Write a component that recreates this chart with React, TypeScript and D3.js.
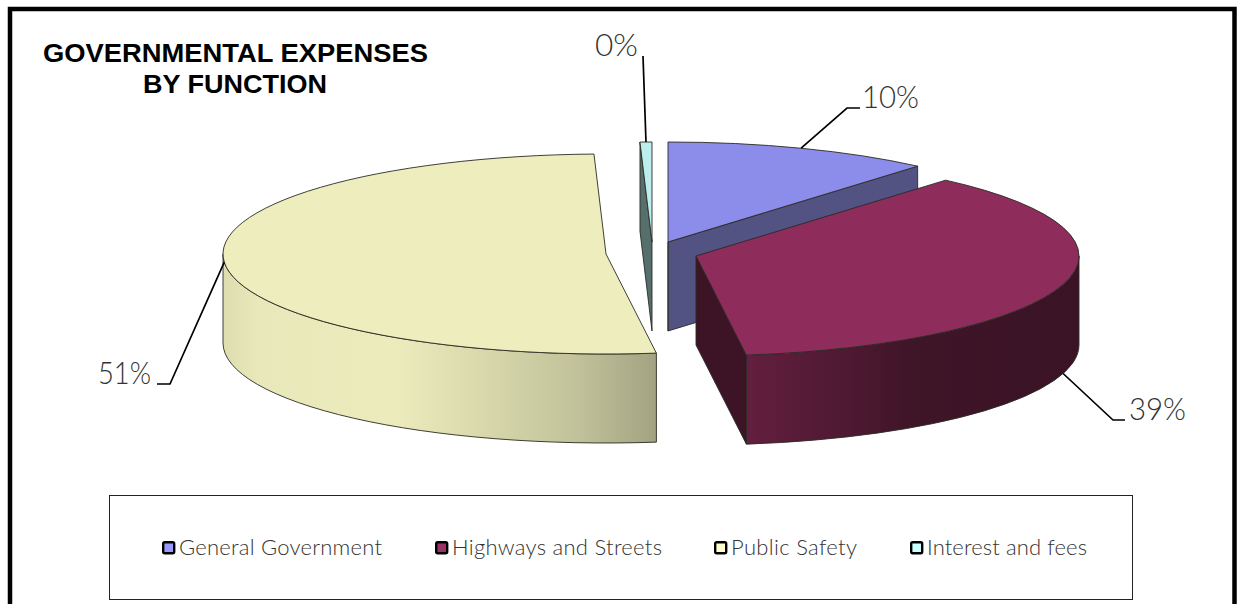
import * as d3 from "d3";

const categories = ["General Government", "Highways and Streets", "Public Safety", "Interest and fees"];
const values = [11.3, 36.6, 51.6, 0.5];
const percentLabels = ["10%", "39%", "51%", "0%"];
const topColors = ["#8c8cea", "#8e2c5c", "#ededbd", "#bdeeee"];
const sideColors = ["#525283", "#3c1426", "#a4a484", "#566f6c"];
const legendColors = ["#9999ff", "#993366", "#ffffcc", "#ccffff"];

const W = 1238, H = 604;
const RX = 383, RY = 100, DEPTH = 89;

// where each exploded wedge has its tip
const centers: [number, number][] = [[668, 242], [696, 256], [606, 254], [652, 242]];
const drawOrder = [3, 0, 2, 1];

const labelLayout = [
  { elbow: [847, 108], end: [860, 108], x: 862, y: 108, len: 57, wall: false },
  { elbow: [1113, 420], end: [1125, 420], x: 1129, y: 419.5, len: 57, wall: true },
  { elbow: [170, 384], end: [157, 384], x: 98, y: 384, len: 53, wall: false },
  { elbow: [643, 56], end: [643, 56], x: 595, y: 56, len: 43, wall: false },
];
const legendX = [162, 435, 714, 910];
const legendTextLen = [203, 210, 126, 160];

const pie = d3.pie<number>().sort(null).startAngle(0).endAngle(2 * Math.PI);
const arcs = pie(values);
const topArc = d3.arc<d3.PieArcDatum<number>>().innerRadius(0).outerRadius(RX);

const pt = (i: number, a: number): [number, number] => [
  centers[i][0] + RX * Math.sin(a),
  centers[i][1] - RY * Math.cos(a),
];

// outer wall between two angles, going anticlockwise along the front edge
function wallPath(i: number, a0: number, a1: number) {
  const p0 = pt(i, a0), p1 = pt(i, a1);
  const sweep = a1 > a0 ? 1 : 0;
  return `M${p0[0]},${p0[1]}A${RX},${RY} 0 0 ${sweep} ${p1[0]},${p1[1]}` +
    `L${p1[0]},${p1[1] + DEPTH}A${RX},${RY} 0 0 ${sweep ? 0 : 1} ${p0[0]},${p0[1] + DEPTH}Z`;
}

// flat cut face going down from one radius
function cutPath(i: number, a: number) {
  const c = centers[i], p = pt(i, a);
  return d3.line()([c, p, [p[0], p[1] + DEPTH], [c[0], c[1] + DEPTH]]) + "Z";
}

const edge = "#2a2a22";
const labelFont = "Lato, 'Open Sans', sans-serif";

export default function App() {
  return (
    <svg width={W} height={H} viewBox={`0 0 ${W} ${H}`} style={{ position: "absolute", left: 0, top: 0, display: "block", background: "#fff" }}>
      <defs>
        <linearGradient id="wallRed" gradientUnits="userSpaceOnUse" x1={745} x2={1080} y1={0} y2={0}>
          <stop offset="0" stopColor="#631f3f" />
          <stop offset="0.25" stopColor="#521a34" />
          <stop offset="0.5" stopColor="#3f1528" />
          <stop offset="1" stopColor="#3a1325" />
        </linearGradient>
        <linearGradient id="wallYellow" gradientUnits="userSpaceOnUse" x1={224} x2={656} y1={0} y2={0}>
          <stop offset="0" stopColor="#deddb0" />
          <stop offset="0.08" stopColor="#e8e8ba" />
          <stop offset="0.4" stopColor="#ebebbc" />
          <stop offset="0.6" stopColor="#d8d8ac" />
          <stop offset="0.8" stopColor="#c4c49c" />
          <stop offset="1" stopColor="#a3a383" />
        </linearGradient>
      </defs>

      <rect x={10} y={9} width={1224.5} height={H + 20} fill="none" stroke="#000" strokeWidth={4.5} />

      <text fontFamily="'Liberation Sans', Arial, sans-serif" fontWeight={700} fontSize={26} fill="#000">
        <tspan x={43} y={62} textLength={385} lengthAdjust="spacingAndGlyphs">GOVERNMENTAL EXPENSES</tspan>
        <tspan x={143} y={93} textLength={184} lengthAdjust="spacingAndGlyphs">BY FUNCTION</tspan>
      </text>

      {drawOrder.map((i) => {
        const d = arcs[i];
        const c = centers[i];
        return (
          <g key={categories[i]} stroke={edge} strokeWidth={0.9} strokeLinejoin="round">
            {/* Interest slice shows its left cut, the others their right or bottom cuts */}
            {i === 0 && <path d={cutPath(0, d.endAngle)} fill={sideColors[0]} />}
            {i === 0 && <path d={`M${c[0]},${c[1]}V${c[1] + DEPTH}`} fill="none" />}
            {i === 1 && <path d={cutPath(1, d.endAngle)} fill={sideColors[1]} />}
            {i === 1 && <path d={wallPath(1, d.endAngle, Math.PI / 2)} fill="url(#wallRed)" />}
            {i === 2 && <path d={wallPath(2, d.startAngle, 1.5 * Math.PI)} fill="url(#wallYellow)" />}
            {i === 3 && <path d={cutPath(3, d.startAngle)} fill={sideColors[3]} />}
            <path
              d={topArc(d) ?? ""}
              transform={`translate(${c[0]},${c[1]}) scale(1,${RY / RX})`}
              fill={topColors[i]}
              vectorEffect="non-scaling-stroke"
            />
          </g>
        );
      })}

      {arcs.map((d, i) => {
        const l = labelLayout[i];
        const p = pt(i, (d.startAngle + d.endAngle) / 2);
        const start: [number, number] = [p[0], p[1] + (l.wall ? DEPTH : 0)];
        return (
          <g key={percentLabels[i]}>
            <path d={d3.line()([start, l.elbow as [number, number], l.end as [number, number]]) ?? ""} fill="none" stroke="#000" strokeWidth={1.7} />
            <text x={l.x} y={l.y} textLength={l.len} lengthAdjust="spacingAndGlyphs" fontFamily={labelFont} fontWeight={300} fontSize={31} fill="#333">{percentLabels[i]}</text>
          </g>
        );
      })}

      <rect x={109.5} y={495.5} width={1023} height={104} fill="#fff" stroke="#222" strokeWidth={1} />
      {categories.map((name, i) => (
        <g key={name}>
          <rect x={legendX[i] + 1.2} y={542.2} width={11} height={11} rx={1.5} fill={legendColors[i]} stroke="#000" strokeWidth={2.4} />
          <text x={legendX[i] + 17} y={555} textLength={legendTextLen[i]} fontFamily={labelFont} fontWeight={300} fontSize={22} fill="#333">{name}</text>
        </g>
      ))}
    </svg>
  );
}
